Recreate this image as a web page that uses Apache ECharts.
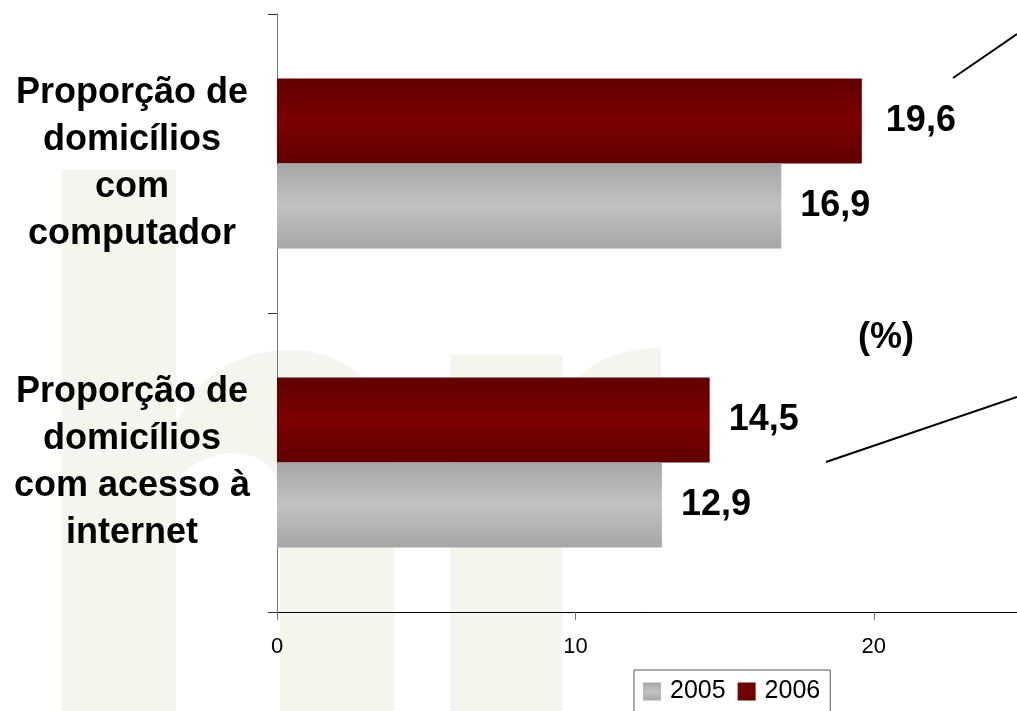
<!DOCTYPE html>
<html>
<head>
<meta charset="utf-8">
<script src="https://cdn.jsdelivr.net/npm/echarts@6/dist/echarts.min.js"></script>
<style>
html,body{margin:0;padding:0;background:#fff;}
#chart{width:1017px;height:711px;}
</style>
</head>
<body>
<div id="chart"></div>
<script>
// Categories (bottom to top on the category axis)
var categories = [
  'Proporção de\ndomicílios\ncom acesso à\ninternet',
  'Proporção de\ndomicílios\ncom\ncomputador'
];
var values2005 = [12.9, 16.9];
var values2006 = [14.5, 19.6];
var seriesNames = ['2005', '2006'];
var xAxisMax = 24.8;
var xTickInterval = 10;
var unitLabel = '(%)';

var FONT = '"Liberation Sans", Arial, sans-serif';
var WM = '#f4f5ec';

function grad(edge, mid) {
  return {
    type: 'linear', x: 0, y: 0, x2: 0, y2: 1,
    colorStops: [
      {offset: 0, color: edge},
      {offset: 0.5, color: mid},
      {offset: 1, color: edge}
    ]
  };
}
function fmt(p) { return p.value.toFixed(1).replace('.', ','); }

// sample a sequence of cubic bezier segments into polygon points (decorative watermark)
function bezPath(start, segs) {
  var pts = [start];
  var cur = start;
  segs.forEach(function (s) {
    if (s.length === 1) { pts.push(s[0]); cur = s[0]; return; }
    for (var t = 1; t <= 16; t++) {
      var u = t / 16, a = 1 - u;
      pts.push([
        a*a*a*cur[0] + 3*a*a*u*s[0][0] + 3*a*u*u*s[1][0] + u*u*u*s[2][0],
        a*a*a*cur[1] + 3*a*a*u*s[0][1] + 3*a*u*u*s[1][1] + u*u*u*s[2][1]
      ]);
    }
    cur = s[2];
  });
  return pts;
}

var archH = bezPath([176, 425], [
  [[195, 375], [240, 350], [290, 350]],
  [[355, 350], [394, 395], [394, 470]],
  [[394, 711]], [[280, 711]], [[280, 500]],
  [[280, 470], [262, 453], [235, 453]],
  [[210, 453], [190, 465], [176, 480]]
]);
var armR = bezPath([562, 400], [
  [[580, 365], [615, 348], [661, 348]],
  [[661, 470]],
  [[620, 470], [590, 480], [562, 500]]
]);

var chart = echarts.init(document.getElementById('chart'), null, {renderer: 'canvas'});
var labelBase = {
  show: true, position: 'right', distance: 19,
  formatter: fmt, color: '#000', fontFamily: FONT, fontWeight: 'bold', fontSize: 36
};

chart.setOption({
  animation: false,
  backgroundColor: '#ffffff',
  grid: {left: 277, right: 0, top: 14, bottom: 99, containLabel: false},
  legend: {
    data: seriesNames,
    left: 634, top: 670,
    orient: 'horizontal',
    icon: 'rect',
    itemWidth: 18, itemHeight: 18, itemGap: 12,
    padding: [9, 10, 9, 9],
    borderColor: '#555', borderWidth: 1,
    backgroundColor: '#fff',
    textStyle: {fontFamily: FONT, fontSize: 25, color: '#000', padding: [0, 0, 0, 4]}
  },
  xAxis: {
    type: 'value', min: 0, max: xAxisMax, interval: xTickInterval,
    axisLine: {show: true, lineStyle: {color: '#000', width: 1}},
    axisTick: {show: true, length: 8, lineStyle: {color: '#777'}},
    splitLine: {show: false},
    axisLabel: {fontFamily: FONT, fontSize: 22, color: '#000', margin: 24, showMaxLabel: false}
  },
  yAxis: {
    type: 'category', data: categories,
    axisLine: {show: true, lineStyle: {color: '#777', width: 1}},
    axisTick: {show: true, length: 9, lineStyle: {color: '#333'}},
    axisLabel: {
      fontFamily: FONT, fontSize: 36, fontWeight: 'bold', color: '#000',
      align: 'center', lineHeight: 47, margin: 145
    }
  },
  series: [
    {
      name: '2006', type: 'bar', barWidth: 85, barGap: '0%',
      itemStyle: {color: grad('#600000', '#7c0000')},
      label: labelBase,
      data: values2006.map(function (v, i) {
        return i === 1 ? {value: v, label: {distance: 24}} : v;
      })
    },
    {
      name: '2005', type: 'bar', barWidth: 85, barGap: '0%',
      itemStyle: {color: grad('#a6a6a6', '#c2c2c2')},
      label: labelBase,
      data: values2005
    }
  ],
  graphic: [
    {type: 'rect', z: -10, silent: true, shape: {x: 62, y: 170, width: 114, height: 541}, style: {fill: WM}},
    {type: 'polygon', z: -10, silent: true, shape: {points: archH}, style: {fill: WM}},
    {type: 'rect', z: -10, silent: true, shape: {x: 450, y: 355, width: 112, height: 356}, style: {fill: WM}},
    {type: 'polygon', z: -10, silent: true, shape: {points: armR}, style: {fill: WM}},
    {type: 'line', z: 10, silent: true, shape: {x1: 953, y1: 78, x2: 1017, y2: 34}, style: {stroke: '#000', lineWidth: 2}},
    {type: 'line', z: 10, silent: true, shape: {x1: 826, y1: 462, x2: 1017, y2: 397}, style: {stroke: '#000', lineWidth: 2}},
    {type: 'text', z: 10, silent: true, x: 886, y: 338,
      style: {text: unitLabel, fontFamily: FONT, fontWeight: 'bold', fontSize: 36, fill: '#000',
        textAlign: 'center', textVerticalAlign: 'middle'}}
  ]
});
</script>
</body>
</html>
